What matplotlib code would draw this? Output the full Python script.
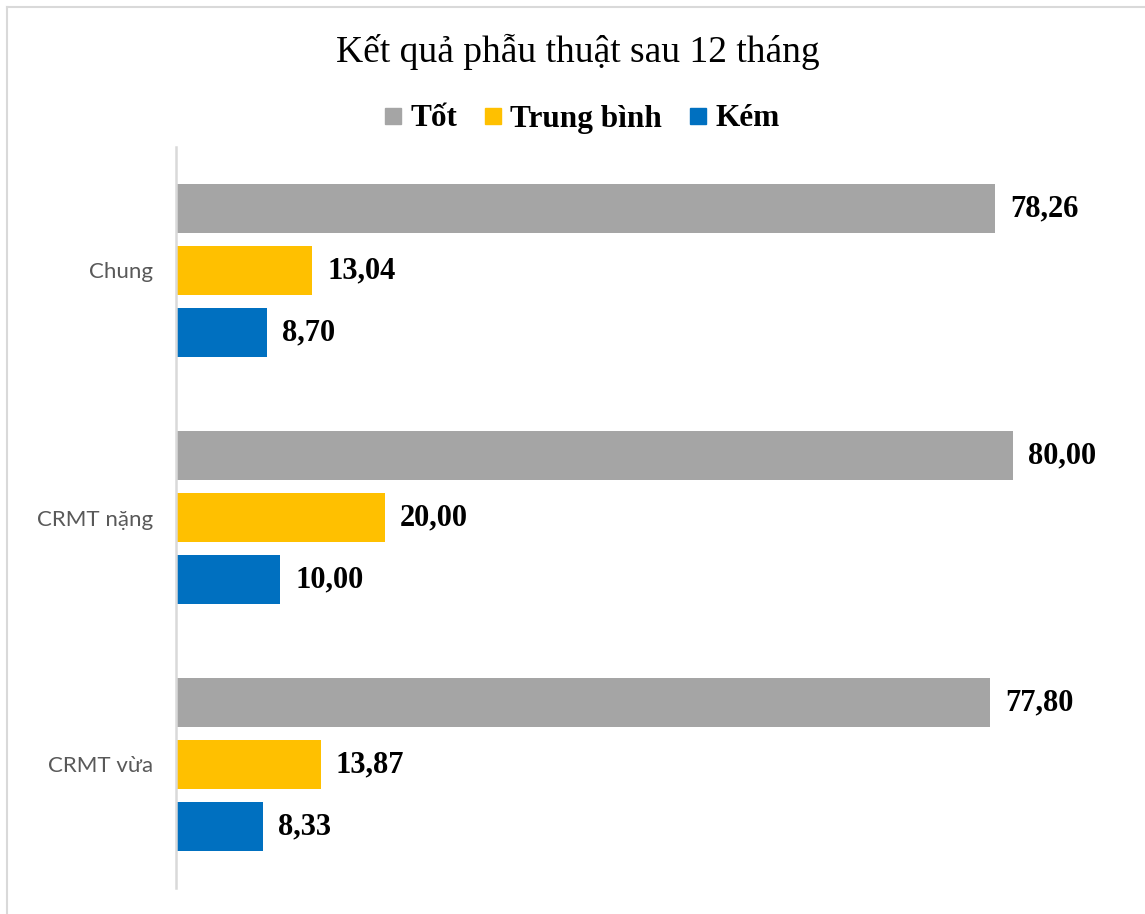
import matplotlib
matplotlib.use("Agg")
import matplotlib.pyplot as plt
from matplotlib.lines import Line2D

categories = ["Chung", "CRMT nặng", "CRMT vừa"]
series_names = ["Tốt", "Trung bình", "Kém"]
tot = [78.26, 80.00, 77.80]
trung_binh = [13.04, 20.00, 13.87]
kem = [8.70, 10.00, 8.33]

colors = ["#A5A5A5", "#FFC000", "#0070C0"]
W, H = 1145, 914

fig = plt.figure(figsize=(W / 100, H / 100), dpi=100)
ax = fig.add_axes([175.6 / W, 1 - 888 / H, 942.3 / W, 741 / H])

series = [tot, trung_binh, kem]
offsets = [-0.251, 0.0, 0.251]
bar_h = 0.198

for values, off, color in zip(series, offsets, colors):
    ys = [i + 0.5 + off for i in range(len(categories))]
    ax.barh(ys, values, height=bar_h, color=color, zorder=2)
    for y, v in zip(ys, values):
        ax.annotate(f"{v:.2f}".replace(".", ","), (v, y), xytext=(15, 0),
                    textcoords="offset pixels", va="center", ha="left",
                    fontsize=22, fontweight="bold", family="Liberation Serif",
                    color="black")

ax.set_xlim(0, 90)
ax.set_ylim(len(categories), 0)
ax.set_yticks([i + 0.5 for i in range(len(categories))])
ax.set_yticklabels(categories, family="Lato", fontsize=16, color="#595959")
ax.tick_params(axis="y", length=0, pad=16)
ax.set_xticks([])
for side in ["top", "right", "bottom"]:
    ax.spines[side].set_visible(False)
ax.spines["left"].set_color("#D9D9D9")
ax.spines["left"].set_linewidth(1.8)

fig.text(578 / W, 1 - 52 / H, "Kết quả phẫu thuật sau 12 tháng",
         ha="center", va="center", fontsize=27, family="Liberation Serif")

handles = [Line2D([], [], marker="s", linestyle="none", markersize=12.2,
                  markerfacecolor=c, markeredgecolor=c) for c in colors]
fig.legend(handles, series_names, loc="center", bbox_to_anchor=(581 / W, 1 - 119 / H),
           ncol=3, frameon=False, handlelength=0.7, handletextpad=0.2,
           columnspacing=0.8, prop={"family": "Liberation Serif", "weight": "bold", "size": 22.5})

# chart area border (top and left edges)
fig.add_artist(Line2D([7 / W, 1], [1 - 7 / H, 1 - 7 / H], color="#D9D9D9", lw=1.5))
fig.add_artist(Line2D([7 / W, 7 / W], [0, 1 - 7 / H], color="#D9D9D9", lw=1.5))

fig.savefig("out.png", dpi=100)
